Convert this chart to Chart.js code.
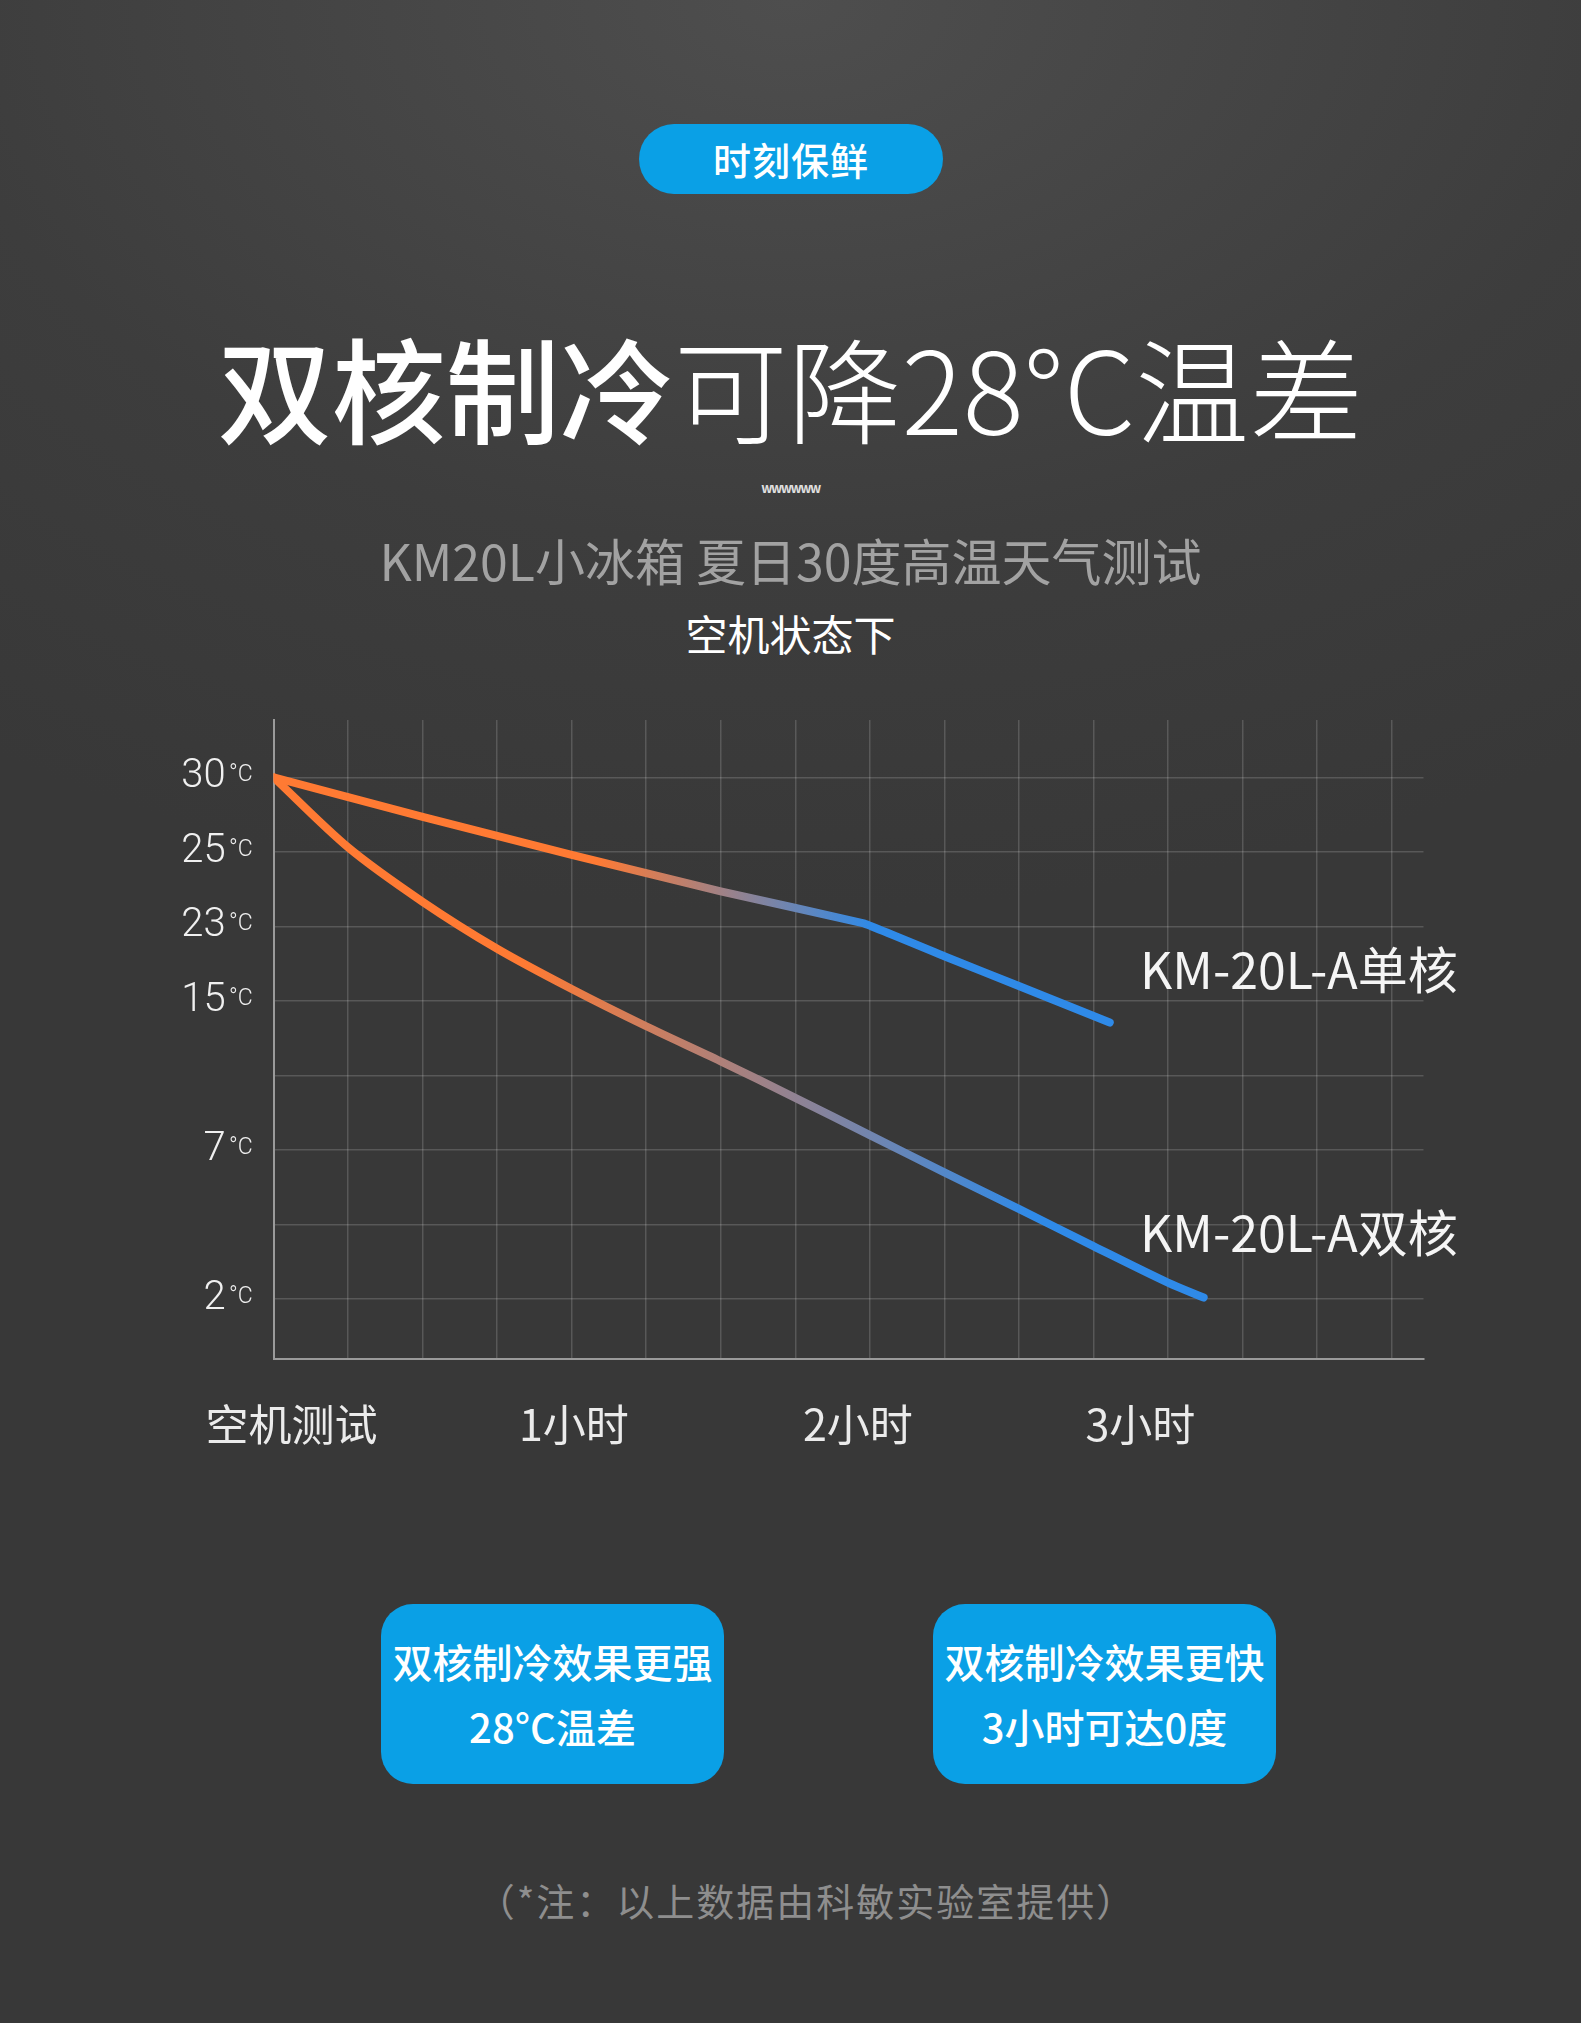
<!DOCTYPE html>
<html>
<head>
<meta charset="utf-8">
<script src="https://cdn.jsdelivr.net/npm/chart.js@4/dist/chart.umd.min.js"></script>
<style>
  html, body { margin: 0; padding: 0; }
  body {
    width: 1581px; height: 2023px; position: relative; overflow: hidden;
    background: radial-gradient(ellipse 90% 45% at 50% 0%, #4e4e4e 0%, #3d3d3d 60%, #383838 100%), #383838;
    font-family: "Noto Sans CJK SC", "Noto Sans", sans-serif;
    color: #fff;
  }
  .abs { position: absolute; }
  .center { left: 0; width: 1581px; text-align: center; white-space: nowrap; }
  .pill {
    left: 639px; top: 124px; width: 304px; height: 70px; border-radius: 35px;
    background: #0aa0e6; text-align: center; line-height: 70px;
    font-size: 38px; font-weight: 500; letter-spacing: 1px;
  }
  .title { top: 325px; font-size: 114px; line-height: 122px; }
  .title b { font-weight: 500; }
  .title span { font-weight: 200; }
  .wave { top: 478px; font-size: 13px; font-weight: 700; color: #e0e0e0; letter-spacing: -1.5px; }
  .sub { top: 528px; font-size: 50px; line-height: 62px; color: #a2a2a2; }
  .state { top: 607px; font-size: 42px; line-height: 52px; font-weight: 400; }
  #chartBox { left: 0; top: 680px; width: 1581px; height: 800px; }
  .serie { font-size: 50px; line-height: 60px; color: #f5f5f5; white-space: nowrap; }
  .card {
    top: 1604px; width: 343px; height: 180px; border-radius: 32px;
    background: #0aa0e6; display: flex; align-items: center; justify-content: center;
    text-align: center; font-size: 40px; line-height: 65px; font-weight: 500;
  }
  .note { left: 16px; top: 1876px; font-size: 38px; line-height: 48px; color: #8e8e8e; letter-spacing: 2px; }
</style>
</head>
<body>
<div class="abs pill">时刻保鲜</div>
<div class="abs center title"><b>双核制冷</b><span>可降28°C温差</span></div>
<div class="abs center wave">wwwwww</div>
<div class="abs center sub">KM20L小冰箱 夏日30度高温天气测试</div>
<div class="abs center state">空机状态下</div>

<div class="abs" id="chartBox"><canvas id="chart" width="1581" height="800"></canvas></div>
<div class="abs serie" style="left:1140px; top:937px;">KM-20L-A单核</div>
<div class="abs serie" style="left:1140px; top:1200px;">KM-20L-A双核</div>

<div class="abs card" style="left:381px;">双核制冷效果更强<br>28°C温差</div>
<div class="abs card" style="left:933px;">双核制冷效果更快<br>3小时可达0度</div>
<div class="abs center note">（*注：以上数据由科敏实验室提供）</div>

<script>
// y axis rows (one row per grid line), labels as printed on the picture
const yRows = [0, 1, 2, 3, 4, 5, 6, 7];
const yTickLabels = ['2', '', '7', '', '15', '23', '25', '30'];

// x axis: grid columns, time labels sit between them
const xGridCols = [1, 2, 3, 4, 5, 6, 7, 8, 9, 10, 11, 12, 13, 14, 15];
const xTickPos = [0.24, 4.03, 7.84, 11.63];
const xTickLabels = ['空机测试', '1小时', '2小时', '3小时'];

// KM-20L-A 单核
const singleCol = [0, 2, 4, 6, 7.92, 9, 10, 11.22];
const singleRow = [7, 6.47, 5.96, 5.47, 5.04, 4.60, 4.20, 3.71];

// KM-20L-A 双核
const dualCol = [0, 1, 2, 3, 4, 5, 6, 7, 8, 9, 10, 11, 12, 12.48];
const dualRow = [7, 6.06, 5.33, 4.70, 4.16, 3.66, 3.19, 2.70, 2.20, 1.70, 1.21, 0.71, 0.22, 0.02];

const orange = '#ff7a33';
const blue = '#2f8ae8';

function toPoints(xs, ys) {
  return xs.map((x, i) => ({ x: x, y: ys[i] }));
}

function lineGradient(from, to) {
  return function (context) {
    const area = context.chart.chartArea;
    if (!area) {
      return orange;
    }
    const g = context.chart.ctx.createLinearGradient(area.left, 0, area.right, 0);
    g.addColorStop(0, orange);
    g.addColorStop(from, orange);
    g.addColorStop(to, blue);
    g.addColorStop(1, blue);
    return g;
  };
}

// small "°C" after each temperature label
const unitPlugin = {
  id: 'unitLabels',
  afterDraw(chart) {
    const y = chart.scales.y;
    const ctx = chart.ctx;
    ctx.save();
    ctx.fillStyle = '#eeeeee';
    ctx.font = '300 23px Roboto, "Noto Sans", sans-serif';
    ctx.textAlign = 'left';
    ctx.textBaseline = 'middle';
    yRows.forEach((r, i) => {
      if (yTickLabels[i]) {
        ctx.fillText('°C', 229, y.getPixelForValue(r) - 2);
      }
    });
    ctx.restore();
  }
};

function noPadding(scale) {
  scale.paddingTop = 0;
  scale.paddingBottom = 0;
  scale.paddingLeft = 0;
  scale.paddingRight = 0;
}

const gridColor = 'rgba(255,255,255,0.16)';
const axisColor = '#9a9a9a';

new Chart(document.getElementById('chart'), {
  type: 'line',
  data: {
    datasets: [
      {
        label: 'KM-20L-A单核',
        data: toPoints(singleCol, singleRow),
        borderColor: lineGradient(0.28, 0.52),
        borderWidth: 8,
        borderCapStyle: 'round',
        borderJoinStyle: 'round',
        pointRadius: 0,
        tension: 0.05,
        fill: false
      },
      {
        label: 'KM-20L-A双核',
        data: toPoints(dualCol, dualRow),
        borderColor: lineGradient(0.22, 0.66),
        borderWidth: 8,
        borderCapStyle: 'round',
        borderJoinStyle: 'round',
        pointRadius: 0,
        tension: 0.3,
        fill: false
      }
    ]
  },
  options: {
    responsive: false,
    animation: false,
    layout: { padding: { top: 40, right: 157.5, left: 0, bottom: 0 } },
    plugins: { legend: { display: false }, tooltip: { enabled: false } },
    scales: {
      x: {
        type: 'linear',
        min: 0,
        max: 15.43,
        weight: 0,
        afterBuildTicks: (scale) => { scale.ticks = xGridCols.map(v => ({ value: v })); },
        afterFit: (scale) => { scale.height = 0; noPadding(scale); },
        ticks: { display: false },
        grid: { color: gridColor, lineWidth: 1.5, drawTicks: false },
        border: { display: true, color: axisColor, width: 2 }
      },
      xLabels: {
        type: 'linear',
        position: 'bottom',
        axis: 'x',
        min: 0,
        max: 15.43,
        weight: 1,
        afterBuildTicks: (scale) => { scale.ticks = xTickPos.map(v => ({ value: v })); },
        afterFit: (scale) => { scale.height = 121; noPadding(scale); },
        ticks: {
          autoSkip: false,
          maxRotation: 0,
          padding: 40,
          color: '#ebebeb',
          font: { family: '"Noto Sans CJK SC"', size: 43 },
          callback: (value) => xTickLabels[xTickPos.indexOf(value)]
        },
        grid: { display: false, drawTicks: false },
        border: { display: false }
      },
      y: {
        type: 'linear',
        min: -0.805,
        max: 7.77,
        afterBuildTicks: (scale) => { scale.ticks = yRows.map(v => ({ value: v })); },
        afterFit: (scale) => { scale.width = 273.6; noPadding(scale); },
        ticks: {
          padding: 48,
          color: '#f0f0f0',
          font: { family: 'Roboto', size: 40, weight: '300' },
          callback: (value) => yTickLabels[yRows.indexOf(value)]
        },
        grid: { color: gridColor, lineWidth: 1.5, drawTicks: false },
        border: { display: true, color: axisColor, width: 2 }
      }
    }
  },
  plugins: [unitPlugin]
});
</script>
</body>
</html>
